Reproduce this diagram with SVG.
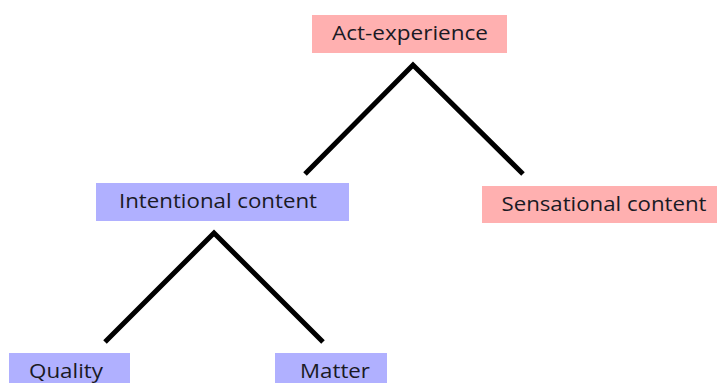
<svg xmlns="http://www.w3.org/2000/svg" width="717" height="383" viewBox="0 0 717 383">
  <style>
    .pink { fill: #ffb0b0; }
    .blue { fill: #b0b0ff; }
    .label { font-family: "Open Sans", "Liberation Sans", sans-serif; font-size: 20.5px; fill: #1a1a24; text-anchor: middle; }
    .edge { fill: none; stroke: #000; stroke-width: 5; stroke-linejoin: miter; }
  </style>
  <rect width="717" height="383" fill="#fff"/>
  <g id="connectors">
    <polyline class="edge" points="305,174 413,65 523,174"/>
    <polyline class="edge" points="105,342 214,233 323,342"/>
  </g>
  <g id="act-experience">
    <rect class="pink" x="312" y="15" width="195" height="38"/>
    <text class="label" x="410" y="40" textLength="156" lengthAdjust="spacingAndGlyphs">Act-experience</text>
  </g>
  <g id="intentional-content">
    <rect class="blue" x="96" y="183" width="253" height="38"/>
    <text class="label" x="218" y="208" textLength="198" lengthAdjust="spacingAndGlyphs">Intentional content</text>
  </g>
  <g id="sensational-content">
    <rect class="pink" x="482" y="186" width="235" height="37"/>
    <text class="label" x="604" y="211" textLength="205" lengthAdjust="spacingAndGlyphs">Sensational content</text>
  </g>
  <g id="quality">
    <rect class="blue" x="9" y="353" width="121" height="35"/>
    <text class="label" x="66" y="378" textLength="74" lengthAdjust="spacingAndGlyphs">Quality</text>
  </g>
  <g id="matter">
    <rect class="blue" x="275" y="353" width="112" height="35"/>
    <text class="label" x="335" y="378" textLength="70" lengthAdjust="spacingAndGlyphs">Matter</text>
  </g>
</svg>
